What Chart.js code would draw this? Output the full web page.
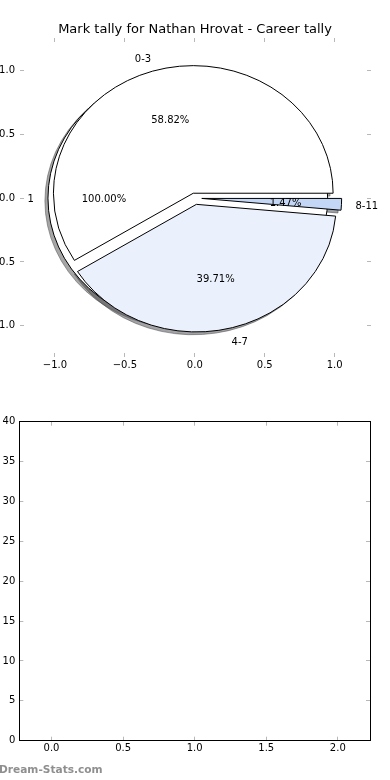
<!DOCTYPE html>
<html>
<head>
<meta charset="utf-8">
<script src="https://cdn.jsdelivr.net/npm/chart.js@4.4.0/dist/chart.umd.min.js"></script>
<style>
html, body { margin: 0; padding: 0; background: #fff; overflow: hidden; }
body { width: 390px; height: 780px; position: relative; }
#pieBox { position: absolute; left: 0; top: 0; width: 390px; height: 380px; }
#barBox { position: absolute; left: 0; top: 380px; width: 390px; height: 400px; }
#mark { position: absolute; left: -1px; top: 763px; font: bold 10.6px "DejaVu Sans"; color: #8f8f8f; }
</style>
</head>
<body>
<div id="pieBox"><canvas id="pieChart"></canvas></div>
<div id="barBox"><canvas id="barChart"></canvas></div>
<div id="mark">Dream-Stats.com</div>
<script>
// 標題
const titleText = 'Mark tally for Nathan Hrovat - Career tally';

// 外層圓餅 (全部 = 100%)
const outerLabels = ['1'];
const outerValues = [1];
const outerExplode = [0.05];
const outerColors = ['#ffffff'];

// 分數區間
const bandLabels = ['0-3', '4-7', '8-11'];
const bandValues = [40, 27, 1];
const bandExplode = [0.04, 0.05, 0.05];
const bandColors = ['#ffffff', '#ebf1fc', '#c3d6f5'];

// 座標軸刻度
const pieTicks = [-1.0, -0.5, 0.0, 0.5, 1.0];
const barXTicks = [0.0, 0.5, 1.0, 1.5, 2.0];
const barYTicks = [0, 5, 10, 15, 20, 25, 30, 35, 40];

Chart.defaults.font.family = '"DejaVu Sans", sans-serif';
Chart.defaults.font.size = 10;
Chart.defaults.color = '#000';

const TICK_COLOR = '#b8b8b8';

// 計算每一塊扇形的角度
function makeWedges(values, explode, colors, labels) {
    const total = values.reduce((a, b) => a + b, 0);
    let t = 0;
    return values.map((v, i) => {
        const t1 = t;
        const t2 = t + 360 * v / total;
        t = t2;
        return {
            t1: t1,
            t2: t2,
            mid: (t1 + t2) / 2 * Math.PI / 180,
            ex: explode[i],
            color: colors[i],
            label: labels[i],
            pct: (100 * v / total).toFixed(2) + '%'
        };
    });
}

function shadowOf(hex) {
    const r = parseInt(hex.slice(1, 3), 16) * 0.3;
    const g = parseInt(hex.slice(3, 5), 16) * 0.3;
    const b = parseInt(hex.slice(5, 7), 16) * 0.3;
    return `rgba(${r}, ${g}, ${b}, 0.5)`;
}

// 用座標軸畫出 (橢圓) 圓餅
const piePlugin = {
    id: 'piePlugin',
    afterDatasetsDraw(chart) {
        const { ctx, scales: { x, y } } = chart;
        const rx = x.getPixelForValue(1) - x.getPixelForValue(0);
        const ry = y.getPixelForValue(0) - y.getPixelForValue(1);
        const all = makeWedges(outerValues, outerExplode, outerColors, outerLabels)
            .concat(makeWedges(bandValues, bandExplode, bandColors, bandLabels));

        function path(w, ox, oy) {
            const cx = x.getPixelForValue(w.ex * Math.cos(w.mid) + ox);
            const cy = y.getPixelForValue(w.ex * Math.sin(w.mid) + oy);
            ctx.beginPath();
            const full = w.t2 - w.t1 > 359.999;
            if (!full) ctx.moveTo(cx, cy);
            ctx.ellipse(cx, cy, rx, ry, 0, -w.t1 * Math.PI / 180, -w.t2 * Math.PI / 180, true);
            ctx.closePath();
        }

        ctx.save();
        ctx.lineWidth = 1;
        // 陰影
        all.forEach(w => {
            path(w, -0.022, -0.022);
            ctx.fillStyle = shadowOf(w.color);
            ctx.strokeStyle = shadowOf(w.color);
            ctx.fill();
            ctx.stroke();
        });
        // 扇形
        all.forEach(w => {
            path(w, 0, 0);
            ctx.fillStyle = w.color;
            ctx.strokeStyle = '#000';
            ctx.fill();
            ctx.stroke();
        });
        // 文字 (往下 1px 對齊 matplotlib 的置中)
        ctx.fillStyle = '#000';
        ctx.font = '10px "DejaVu Sans"';
        ctx.textBaseline = 'middle';
        all.forEach(w => {
            const bx = w.ex * Math.cos(w.mid);
            const by = w.ex * Math.sin(w.mid);
            const lx = bx + 1.1 * Math.cos(w.mid);
            const ly = by + 1.1 * Math.sin(w.mid);
            ctx.textAlign = lx < 0 ? 'right' : 'left';
            ctx.fillText(w.label, x.getPixelForValue(lx), y.getPixelForValue(ly) + 1);
            ctx.textAlign = 'center';
            ctx.fillText(w.pct, x.getPixelForValue(bx + 0.6 * Math.cos(w.mid)),
                y.getPixelForValue(by + 0.6 * Math.sin(w.mid)) + 1);
        });
        ctx.restore();
    }
};

function axis(opts) {
    return {
        type: 'linear',
        position: opts.position,
        min: opts.min,
        max: opts.max,
        border: { display: opts.border, color: '#000', width: 1 },
        grid: { drawOnChartArea: false, drawTicks: true, tickLength: -4, color: TICK_COLOR, lineWidth: 1 },
        ticks: {
            display: opts.labels,
            padding: opts.padding || 0,
            maxRotation: 0,
            autoSkip: false,
            color: '#000',
            callback: opts.fmt
        },
        afterBuildTicks: s => { s.ticks = opts.ticks.map(v => ({ value: v })); },
        afterFit: s => {
            if (s.isHorizontal()) s.height = opts.size; else s.width = opts.size;
        }
    };
}

const pieFmt = v => v.toFixed(1).replace('-', '\u2212');

new Chart(document.getElementById('pieChart'), {
    type: 'scatter',
    data: { datasets: [] },
    options: {
        responsive: true,
        maintainAspectRatio: false,
        animation: false,
        layout: { padding: 0 },
        plugins: {
            legend: { display: false },
            tooltip: { enabled: false },
            title: {
                display: true,
                text: titleText,
                color: '#000',
                font: { size: 13, weight: 'normal' },
                padding: { top: 22, bottom: 0 }
            }
        },
        scales: {
            x: axis({ position: 'bottom', min: -1.25, max: 1.26, border: false, labels: true, padding: 6, fmt: pieFmt, ticks: pieTicks, size: 23 }),
            x2: axis({ position: 'top', min: -1.25, max: 1.26, border: false, labels: false, ticks: pieTicks, size: 0.4 }),
            y: axis({ position: 'left', min: -1.245, max: 1.255, border: false, labels: true, padding: 9, fmt: pieFmt, ticks: pieTicks, size: 20 }),
            y2: axis({ position: 'right', min: -1.245, max: 1.255, border: false, labels: false, ticks: pieTicks, size: 19 })
        }
    },
    plugins: [piePlugin]
});

new Chart(document.getElementById('barChart'), {
    type: 'scatter',
    data: { datasets: [] },
    options: {
        responsive: true,
        maintainAspectRatio: false,
        animation: false,
        layout: { padding: 0 },
        plugins: {
            legend: { display: false },
            tooltip: { enabled: false }
        },
        scales: {
            x: axis({ position: 'bottom', min: -0.225, max: 2.225, border: true, labels: true, padding: 6, fmt: v => v.toFixed(1), ticks: barXTicks, size: 39.3 }),
            x2: axis({ position: 'top', min: -0.225, max: 2.225, border: true, labels: false, ticks: barXTicks, size: 41.7 }),
            y: axis({ position: 'left', min: 0, max: 40, border: true, labels: true, padding: 8, fmt: v => String(v), ticks: barYTicks, size: 19.3 }),
            y2: axis({ position: 'right', min: 0, max: 40, border: true, labels: false, ticks: barYTicks, size: 20 })
        }
    }
});
</script>
</body>
</html>
